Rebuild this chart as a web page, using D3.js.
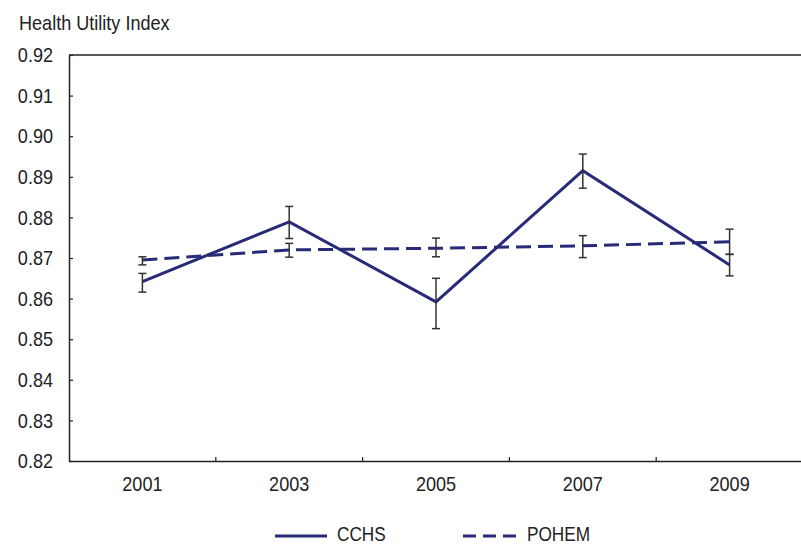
<!DOCTYPE html>
<html>
<head>
<meta charset="utf-8">
<script src="https://cdn.jsdelivr.net/npm/d3@7"></script>
<style>
  body { margin: 0; background: #fff; }
  text { font-family: "Liberation Sans", Arial, sans-serif; fill: #222; }
</style>
</head>
<body>
<svg id="chart" width="801" height="546"></svg>
<script>
const years = ["2001", "2003", "2005", "2007", "2009"];
const yTicks = [0.82, 0.83, 0.84, 0.85, 0.86, 0.87, 0.88, 0.89, 0.90, 0.91, 0.92];

const cchs = [0.8642, 0.8789, 0.8592, 0.8915, 0.8683];
const cchsLow = [0.8616, 0.8748, 0.8526, 0.8872, 0.8656];
const cchsHigh = [0.8662, 0.8827, 0.8650, 0.8956, 0.8709];

const pohem = [0.8695, 0.8720, 0.8724, 0.8730, 0.8740];
const pohemLow = [0.8683, 0.8702, 0.8703, 0.8701, 0.8709];
const pohemHigh = [0.8703, 0.8736, 0.8749, 0.8755, 0.8771];

const navy = "#272b78";
const barColour = "#333";
const fontSize = 21;

const svg = d3.select("#chart");
const plot = { left: 69, right: 803, top: 55, bottom: 461 };

const x = d3.scaleBand().domain(years).range([plot.left, plot.right]);
const y = d3.scaleLinear().domain([0.82, 0.92]).range([plot.bottom, plot.top]);

// axis title
svg.append("text")
  .attr("x", 19)
  .attr("y", 30)
  .attr("font-size", fontSize)
  .text("Health Utility Index");

// top frame line
svg.append("line")
  .attr("x1", plot.left).attr("x2", 801)
  .attr("y1", plot.top).attr("y2", plot.top)
  .attr("stroke", "#222").attr("stroke-width", 1.5);

// y axis
const yAxis = d3.axisLeft(y)
  .tickValues(yTicks)
  .tickFormat(d3.format(".2f"))
  .tickSizeInner(-4)
  .tickSizeOuter(0)
  .tickPadding(16);

const yG = svg.append("g")
  .attr("transform", `translate(${plot.left},0)`)
  .call(yAxis);
yG.select(".domain").attr("stroke", "#222").attr("stroke-width", 1.5);
yG.selectAll(".tick line").attr("stroke", "#222").attr("stroke-width", 1.2);
yG.selectAll(".tick text")
  .attr("font-size", fontSize)
  .attr("font-family", null)
  .attr("fill", "#222");

// x axis, ticks between categories
const xAxis = d3.axisBottom(x).tickSize(0).tickPadding(15);
const xG = svg.append("g")
  .attr("transform", `translate(0,${plot.bottom})`)
  .call(xAxis);
xG.select(".domain").attr("stroke", "#222").attr("stroke-width", 1.5);
xG.selectAll(".tick text")
  .attr("font-size", fontSize)
  .attr("font-family", null)
  .attr("fill", "#222");

xG.selectAll(".sep")
  .data(years.slice(1))
  .enter()
  .append("line")
  .attr("class", "sep")
  .attr("x1", (d) => x(d)).attr("x2", (d) => x(d))
  .attr("y1", 0).attr("y2", -4)
  .attr("stroke", "#222").attr("stroke-width", 1.2);

const cx = (i) => x(years[i]) + x.bandwidth() / 2;

const line = d3.line()
  .x((d, i) => cx(i))
  .y((d) => y(d));

// series
const series = [
  { name: "CCHS", values: cchs, low: cchsLow, high: cchsHigh, dash: null },
  { name: "POHEM", values: pohem, low: pohemLow, high: pohemHigh, dash: "15,7" }
];

series.forEach((s) => {
  svg.append("path")
    .datum(s.values)
    .attr("fill", "none")
    .attr("stroke", navy)
    .attr("stroke-width", 3)
    .attr("stroke-dasharray", s.dash)
    .attr("d", line);
});

// error bars
series.forEach((s) => {
  const g = svg.append("g").attr("class", "err");
  const idx = d3.range(years.length);
  g.selectAll(".v").data(idx).enter().append("line")
    .attr("x1", cx).attr("x2", cx)
    .attr("y1", (i) => y(s.low[i])).attr("y2", (i) => y(s.high[i]))
    .attr("stroke", barColour).attr("stroke-width", 1.5);
  [s.low, s.high].forEach((arr) => {
    g.selectAll(null).data(idx).enter().append("line")
      .attr("x1", (i) => cx(i) - 4).attr("x2", (i) => cx(i) + 4)
      .attr("y1", (i) => y(arr[i])).attr("y2", (i) => y(arr[i]))
      .attr("stroke", barColour).attr("stroke-width", 1.5);
  });
});

// legend
const legend = [
  { name: "CCHS", x1: 275, x2: 327, dash: null },
  { name: "POHEM", x1: 463, x2: 517, dash: "13,7" }
];
const lg = svg.append("g").selectAll("g").data(legend).enter().append("g");
lg.append("line")
  .attr("x1", (d) => d.x1).attr("x2", (d) => d.x2)
  .attr("y1", 536).attr("y2", 536)
  .attr("stroke", navy).attr("stroke-width", 3)
  .attr("stroke-dasharray", (d) => d.dash);
lg.append("text")
  .attr("x", (d) => d.x2 + 10)
  .attr("y", 541)
  .attr("font-size", 20)
  .text((d) => d.name);

// squeeze all text to mimic a condensed face
svg.selectAll("text").each(function () {
  const w = this.getComputedTextLength();
  d3.select(this)
    .attr("textLength", w * 0.86)
    .attr("lengthAdjust", "spacingAndGlyphs");
});
</script>
</body>
</html>
